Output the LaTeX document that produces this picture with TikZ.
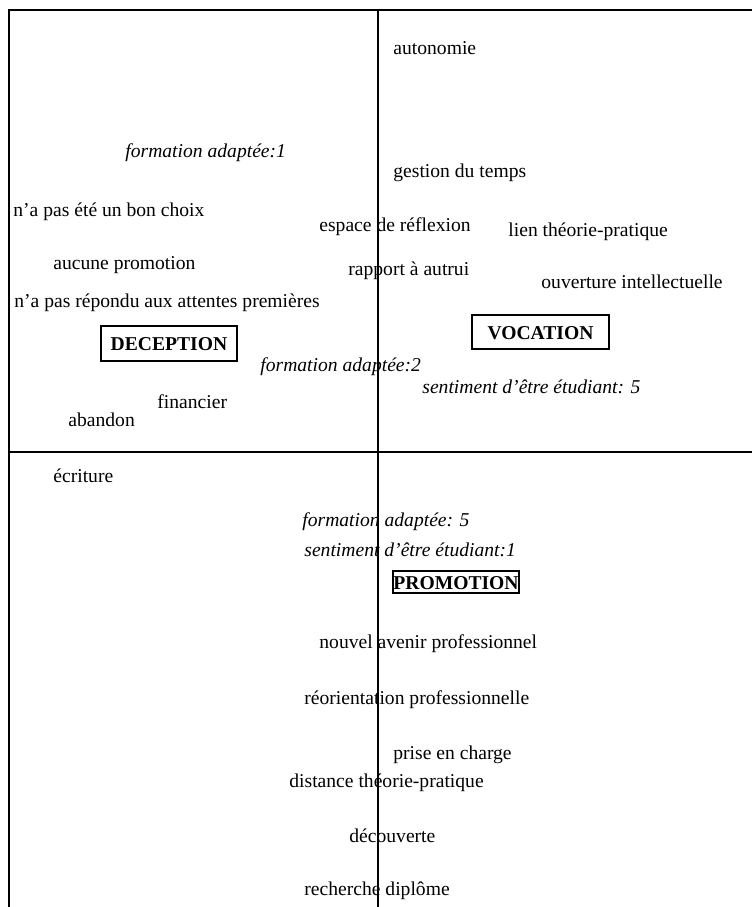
\documentclass[tikz,border=0pt]{standalone}
\usepackage{fontspec}
\setmainfont{Liberation Serif}
\begin{document}
\begin{tikzpicture}[x=0.5pt,y=-0.5pt,
    every node/.style={font=\fontsize{9.8}{12}\selectfont, inner sep=0pt,
        text height=0.8em, text depth=0.1em},
    word/.style={anchor=west},
    score/.style={anchor=west, font=\fontsize{9.8}{12}\selectfont\itshape},
    pole/.style={draw, line width=0.6pt, font=\fontsize{9.8}{12}\selectfont\bfseries},
    axis/.style={line width=1pt}]
    \useasboundingbox (0,0) rectangle (752,907);

    % Frame and axes
    \coordinate (tl) at (9,10);
    \coordinate (tr) at (752,10);
    \coordinate (bl) at (9,907);
    \coordinate (ml) at (9,452);
    \coordinate (mr) at (752,452);
    \coordinate (vt) at (378,10);
    \coordinate (vb) at (378,907);
    \draw[axis] (bl) -- (tl) -- (tr);
    \draw[axis] (ml) -- (mr);
    \draw[axis] (vt) -- (vb);

    % Upper left quarter
    \node[score] (fa1) at (125,150) {formation adaptée:1};
    \node[word] (choix) at (13,209) {n’a pas été un bon choix};
    \node[word] (aucune) at (53,262) {aucune promotion};
    \node[word] (attentes) at (14,300) {n’a pas répondu aux attentes premières};
    \node[pole, minimum width=68pt, minimum height=17.5pt] (deception) at (169,343.5) {DECEPTION};
    \node[score] (fa2) at (260,364) {formation adaptée:2};
    \node[word] (financier) at (157,401) {financier};
    \node[word] (abandon) at (68,419) {abandon};
    \node[word] (espace) at (319,224) {espace de réflexion};
    \node[word] (autrui) at (348,268) {rapport à autrui};

    % Upper right quarter
    \node[word] (autonomie) at (393,47) {autonomie};
    \node[word] (gestion) at (393,170) {gestion du temps};
    \node[word] (lien) at (508,229) {lien théorie-pratique};
    \node[word] (ouverture) at (541,281) {ouverture intellectuelle};
    \node[pole, minimum width=68.5pt, minimum height=17pt] (vocation) at (540.5,332) {VOCATION};
    \node[score] (se5) at (422,386) {sentiment d’être étudiant: 5};

    % Lower half
    \node[word] (ecriture) at (53,475) {écriture};
    \node[score] (fa5) at (302,519) {formation adaptée: 5};
    \node[score] (se1) at (304,549) {sentiment d’être étudiant:1};
    \node[pole, minimum width=63pt, minimum height=11pt] (promotion) at (456,582) {PROMOTION};
    \node[word] (avenir) at (319,641) {nouvel avenir professionnel};
    \node[word] (reorient) at (304,697) {réorientation professionnelle};
    \node[word] (charge) at (393,752) {prise en charge};
    \node[word] (distance) at (289,780) {distance théorie-pratique};
    \node[word] (decouverte) at (349,835) {découverte};
    \node[word] (diplome) at (304,888) {recherche diplôme};
\end{tikzpicture}
\end{document}
